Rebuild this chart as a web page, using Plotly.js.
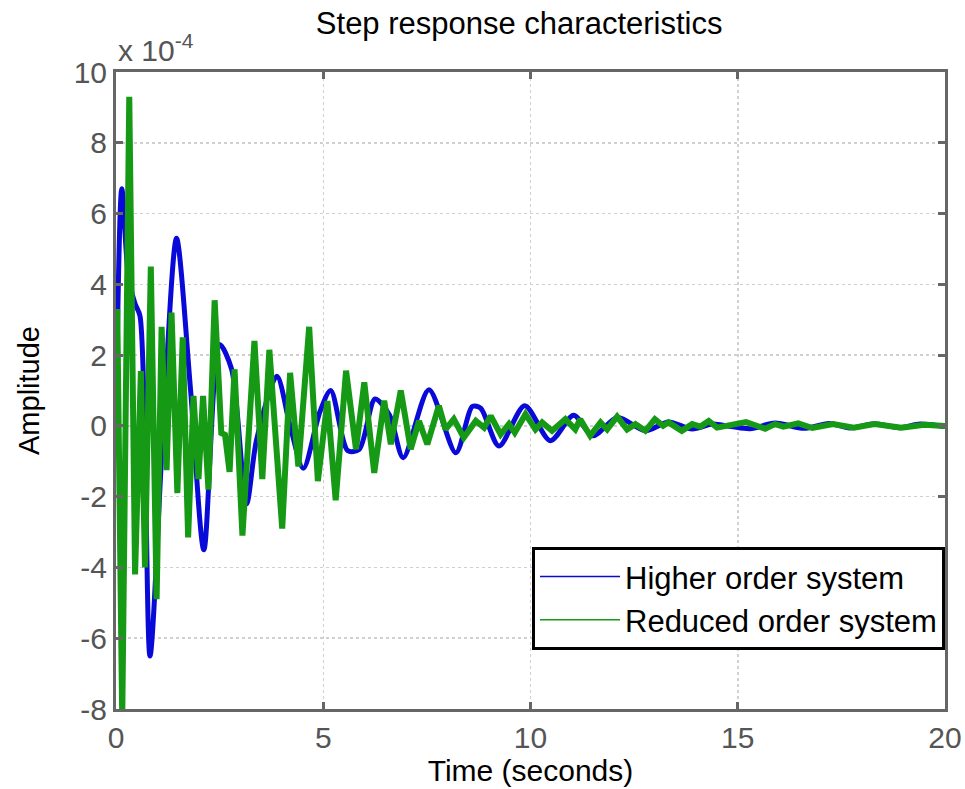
<!DOCTYPE html>
<html>
<head>
<meta charset="utf-8">
<script src="https://cdn.plot.ly/plotly-3.0.1.min.js"></script>
<style>html,body{margin:0;padding:0;background:#fff;}#chart{width:965px;height:789px;}</style>
</head>
<body>
<div id="chart"></div>
<script>
// Values in units of 1e-4
const seriesNames = ["Higher order system", "Reduced order system"];

const tHigher = [0, 0.14, 0.3, 0.46, 0.58, 0.82, 1.14, 1.46, 1.8, 2.12, 2.5, 2.79, 3.15, 3.39, 3.88, 4.2, 4.52, 4.92, 5.18, 5.59, 5.87, 6.25, 6.6, 6.93, 7.55, 8.2, 8.6, 8.8, 9.24, 9.86, 10.48, 11.04, 11.5, 12.1, 12.77, 13.33, 13.9, 14.4, 14.85, 15.3, 15.9, 16.6, 17.2, 17.7, 18.3, 18.9, 19.4, 20];
const yHigher = [0, 6.7, 4.2, 3.45, 3.1, -6.5, 0, 5.3, 1.0, -3.5, 2.3, 1.6, -2.2, -0.4, 1.4, 0, -1.2, 0.4, 1.0, -0.7, -0.66, 0.76, 0.3, -0.9, 1.02, -0.76, 0.55, 0.5, -0.57, 0.57, -0.42, 0.3, -0.28, 0.24, -0.14, 0.11, -0.09, 0.05, -0.02, -0.08, 0.08, -0.07, 0.07, -0.06, 0.06, -0.05, 0.05, -0.02];

const tReduced = [0, 0.03, 0.15, 0.32, 0.46, 0.6, 0.7, 0.84, 0.98, 1.1, 1.22, 1.34, 1.48, 1.61, 1.74, 1.87, 1.99, 2.1, 2.23, 2.38, 2.54, 2.63, 2.74, 2.86, 3.05, 3.34, 3.53, 3.7, 4.01, 4.2, 4.4, 4.66, 4.87, 5.1, 5.3, 5.55, 5.79, 5.99, 6.23, 6.47, 6.63, 6.87, 7.11, 7.31, 7.51, 7.79, 7.95, 8.15, 8.39, 8.68, 8.88, 9.04, 9.28, 9.48, 9.62, 9.88, 10.12, 10.28, 10.52, 10.84, 11.08, 11.2, 11.44, 11.69, 11.85, 12.09, 12.33, 12.53, 12.77, 13.0, 13.2, 13.33, 13.65, 13.9, 14.1, 14.3, 14.5, 14.85, 15.2, 15.66, 15.9, 16.1, 16.46, 16.8, 17.3, 17.8, 18.3, 18.95, 19.5, 20];
const yReduced = [0, 3.3, -8.3, 9.3, -4.2, 1.55, -4.0, 4.5, -4.9, 2.8, -1.25, 3.2, -1.9, 2.5, -3.15, 0.85, -1.5, 0.85, -1.8, 3.55, -0.2, -0.25, -1.3, 1.6, -3.1, 2.4, -1.5, 2.15, -2.9, 1.5, -1.15, 2.8, -1.56, 0.7, -2.1, 1.56, -0.66, 1.23, -1.33, 0.71, -0.52, 1.0, -0.66, 0.14, -0.52, 0.57, -0.1, 0.19, -0.33, 0.14, -0.05, 0.28, -0.24, 0.05, -0.19, 0.33, -0.1, 0.1, -0.14, 0.19, -0.1, 0.19, -0.28, 0.1, -0.1, 0.26, -0.1, 0.05, -0.14, 0.19, 0, 0.1, -0.14, 0.05, -0.02, 0.14, -0.05, 0.05, 0.11, -0.08, 0.05, -0.02, 0.07, -0.06, 0.05, -0.05, 0.05, -0.05, 0.03, 0];

const xTicks = [0, 5, 10, 15, 20];
const yTicks = [-8, -6, -4, -2, 0, 2, 4, 6, 8, 10];

const blue = "#0a0ad8";
const green = "#169a16";
const fontFam = "'Liberation Sans', Arial, sans-serif";

const traces = [
  {x: tHigher, y: yHigher, mode: "lines", line: {color: blue, width: 5, shape: "spline", smoothing: 0.8}, showlegend: false, hoverinfo: "skip"},
  {x: tReduced, y: yReduced, mode: "lines", line: {color: green, width: 6}, showlegend: false, hoverinfo: "skip"},
  {x: [null], y: [null], mode: "lines", name: seriesNames[0], line: {color: blue, width: 1.5}},
  {x: [null], y: [null], mode: "lines", name: seriesNames[1], line: {color: green, width: 1.5}}
];

const axisCommon = {
  showline: true, mirror: "ticks", linecolor: "#666", linewidth: 3,
  ticks: "inside", ticklen: 7, tickwidth: 3, tickcolor: "#666",
  showgrid: true, gridcolor: "#d0d0d0", gridwidth: 1.5, griddash: "dot",
  zeroline: false,
  tickfont: {family: fontFam, size: 30, color: "#555"}
};

const layout = {
  width: 965, height: 789,
  margin: {l: 116, r: 20, t: 72, b: 80},
  paper_bgcolor: "#fff", plot_bgcolor: "#fff",
  font: {family: fontFam},
  title: {text: "Step response characteristics", font: {family: fontFam, size: 31, color: "#000"}, x: 0.538, xanchor: "center", y: 0.985, yanchor: "top"},
  xaxis: Object.assign({}, axisCommon, {
    range: [0, 20], tickvals: xTicks, ticktext: xTicks.map(String),
    title: {text: "Time (seconds)", font: {family: fontFam, size: 30, color: "#000"}, standoff: 2}
  }),
  yaxis: Object.assign({}, axisCommon, {
    range: [-8, 10], tickvals: yTicks, ticktext: yTicks.map(String),
    title: {text: "Amplitude", font: {family: fontFam, size: 29, color: "#000"}, standoff: 26}
  }),
  legend: {
    x: 1, xanchor: "right", y: 0.093, yanchor: "bottom",
    bgcolor: "#fff", bordercolor: "#000", borderwidth: 3,
    font: {family: fontFam, size: 31, color: "#000"},
    itemwidth: 80, tracegroupgap: 0
  },
  annotations: [
    {xref: "paper", yref: "paper", x: 0, y: 1, xanchor: "left", yanchor: "bottom", yshift: 3, showarrow: false,
     text: "x 10<sup>-4</sup>", font: {family: fontFam, size: 30, color: "#555"}}
  ]
};

Plotly.newPlot("chart", traces, layout, {displayModeBar: false, staticPlot: true});
</script>
</body>
</html>
